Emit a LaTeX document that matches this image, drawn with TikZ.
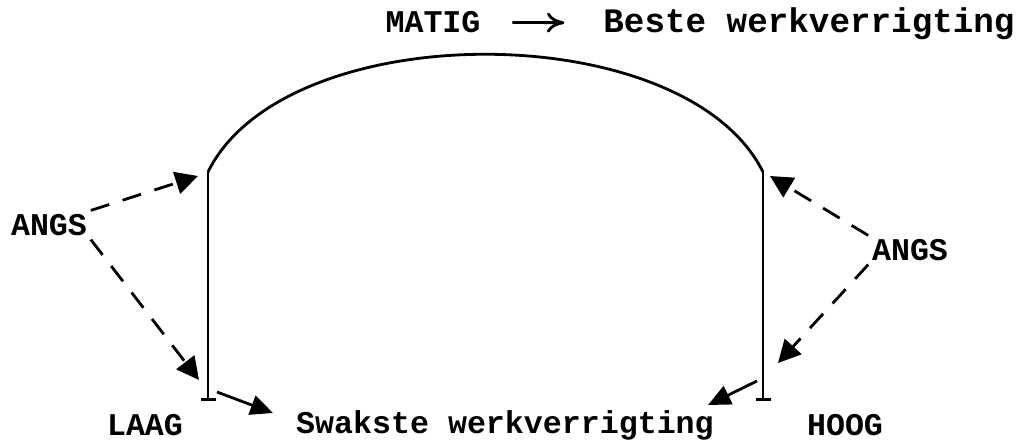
\documentclass[tikz,border=0pt]{standalone}
\usepackage{fontspec}
\setmonofont{Liberation Mono}
\usetikzlibrary{arrows.meta}

\begin{document}
\begin{tikzpicture}[x=0.02cm, y=-0.02cm, every node/.style={font=\ttfamily\bfseries\fontsize{18}{20}\selectfont, inner sep=2pt}, bar/.style={line width=1.5pt,-{Bar[width=3mm,line width=1.5pt]}}, dsh/.style={line width=1.6pt,dash pattern=on 11pt off 8pt,-{Triangle[length=4.5mm,width=4.5mm]}}, arr/.style={line width=1.6pt,-{Triangle[length=4.5mm,width=4mm]}}]
\useasboundingbox (0,0) rectangle (1021,440);
\node (matig) at (433,22) {MATIG};
\node[font=\ttfamily\bfseries\fontsize{19.5}{21}\selectfont] (beste) at (809,24) {Beste werkverrigting};
\node (angsL) at (49,225) {ANGS};
\node (angsR) at (910,250) {ANGS};
\node (laag) at (145,425) {LAAG};
\node (swak) at (505,425) {Swakste werkverrigting};
\node (hoog) at (845,425) {HOOG};
\coordinate (lt) at (208,172);
\coordinate (lb) at (208,401);
\coordinate (rt) at (763,172);
\coordinate (rb) at (763,401);
\coordinate (lhi) at (198,176);
\coordinate (llo) at (199,380);
\coordinate (rhi) at (770,176);
\coordinate (rlo) at (778,363);
\coordinate (lfrom) at (217,392);
\coordinate (lto) at (273,413);
\coordinate (rfrom) at (757,381);
\coordinate (rto) at (708,405);
\draw[line width=1.6pt] (lt) .. controls (285,15) and (685,15) .. (rt);
\draw[bar] (lt) -- (lb);
\draw[bar] (rt) -- (rb);
\draw[line width=1.6pt,-{To[length=3.5mm,width=4mm]},shorten <=16pt,shorten >=20pt] (matig) -- (beste);
\draw[dsh] (angsL.north east) -- (lhi);
\draw[dsh] (angsL.south east) -- (llo);
\draw[dsh] (angsR.north west) -- (rhi);
\draw[dsh] (angsR.south west) -- (rlo);
\draw[arr] (lfrom) -- (lto);
\draw[arr] (rfrom) -- (rto);
\end{tikzpicture}
\end{document}
